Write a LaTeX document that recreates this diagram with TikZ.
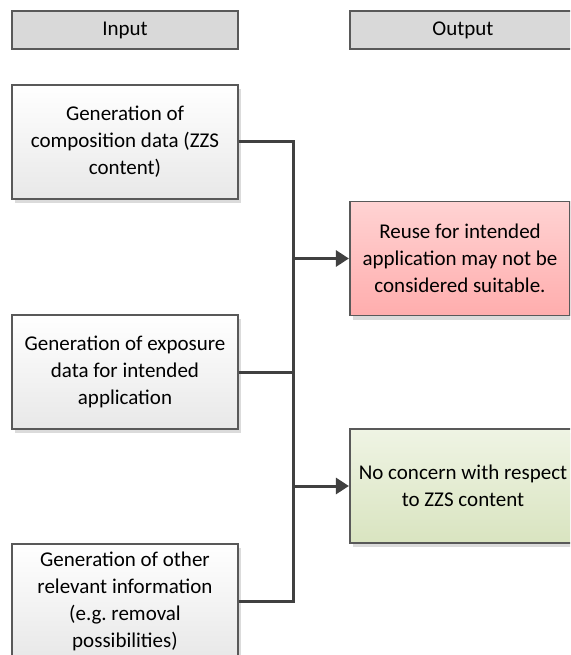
\documentclass[tikz,border=0pt]{standalone}
\usepackage{fontspec}
\setmainfont{Carlito}
\usetikzlibrary{shadows,arrows.meta}
\definecolor{edge}{HTML}{595959}
\definecolor{wire}{HTML}{404040}
\definecolor{hdr}{HTML}{D9D9D9}
\definecolor{redtop}{HTML}{FFD3D3}
\definecolor{redbot}{HTML}{FFADAD}
\definecolor{greentop}{HTML}{EFF4E4}
\definecolor{greenbot}{HTML}{D9E4C0}
\begin{document}
\begin{tikzpicture}[x=1pt,y=-1pt,
  txt/.style={font=\fontsize{21}{27}\selectfont, align=center, text=black},
  header/.style={txt, draw=edge, line width=1.2pt, fill=hdr, minimum width=226pt, minimum height=38pt, inner sep=0pt},
  inbox/.style={txt, draw=edge, line width=1.2pt, minimum width=226pt, minimum height=114pt, inner sep=0pt,
    top color=white, bottom color=black!9, shading angle=0,
    drop shadow={shadow xshift=3pt, shadow yshift=-4pt, fill=black!14, opacity=1}},
  redbox/.style={inbox, top color=redtop, bottom color=redbot},
  greenbox/.style={inbox, top color=greentop, bottom color=greenbot},
  wireline/.style={draw=wire, line width=3pt},
  arrow/.style={wireline, -{Triangle[length=13pt,width=16pt]}, shorten >=0.5pt}
]
\useasboundingbox (0,0) rectangle (570,655);
\clip (0,0) rectangle (570,655);

% column headers
\node[header] (hin)  at (125,30) {Input};
\node[header] (hout) at (463,30) {Output};

% input activities
\node[inbox] (gen1) at (125,142) {Generation of\\composition data (ZZS\\content)};
\node[inbox] (gen2) at (125,372) {Generation of exposure\\data for intended\\application};
\node[inbox] (gen3) at (125,601) {Generation of other\\relevant information\\(e.g.\ removal\\possibilities)};

% outcomes
\node[redbox, minimum width=220pt] (reuse) at (460,258.5) {Reuse for intended\\application may not be\\considered suitable.};
\node[greenbox] (ok) at (463,486) {No concern with respect\\to ZZS content};

% collecting bus
\coordinate (bus1) at (293,142);
\coordinate (bus3) at (293,601);
\coordinate (busr) at (293,258.5);
\coordinate (busg) at (293,486);
\draw[wireline, line join=miter] (gen1.east) -- (bus1) -- (bus3) -- (gen3.east);
\draw[wireline] (gen2.east) -- (gen2.east -| bus1);
\draw[arrow] (busr) -- (reuse.west);
\draw[arrow] (busg) -- (ok.west);
\end{tikzpicture}
\end{document}
